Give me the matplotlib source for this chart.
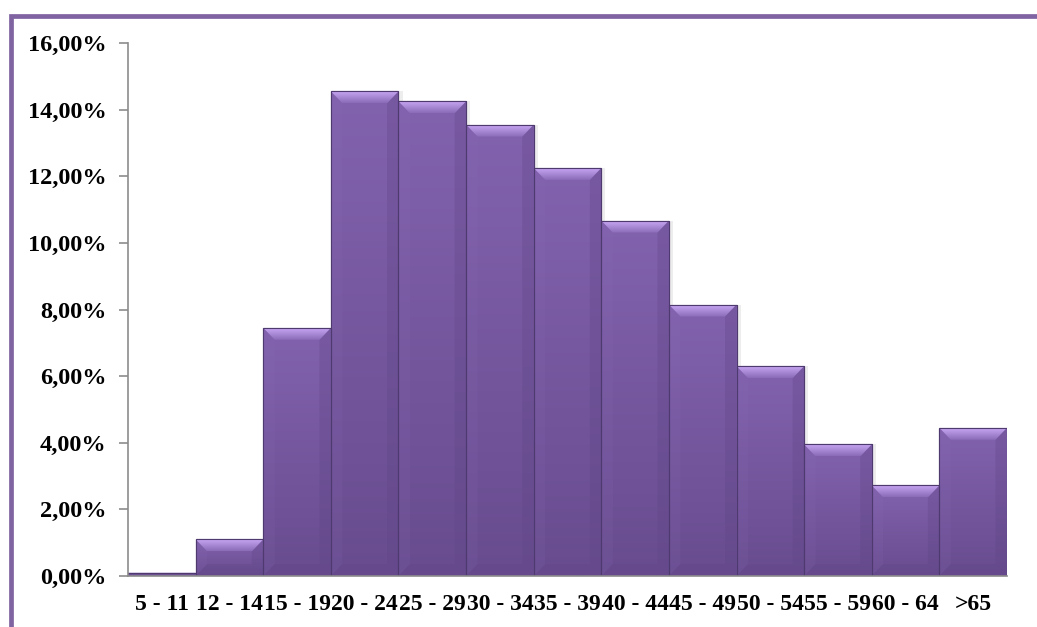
import numpy as np
import matplotlib
matplotlib.use("Agg")
import matplotlib.pyplot as plt
from matplotlib.patches import Polygon, Rectangle
from matplotlib.colors import LinearSegmentedColormap
from matplotlib.ticker import FuncFormatter, MultipleLocator

# share of each age group (%)
age_groups = ["5 - 11", "12 - 14", "15 - 19", "20 - 24", "25 - 29", "30 - 34",
              "35 - 39", "40 - 44", "45 - 49", "50 - 54", "55 - 59", "60 - 64", ">65"]
shares = [0.1, 1.1, 7.45, 14.55, 14.25, 13.55, 12.25, 10.67, 8.15, 6.3, 3.95, 2.72, 4.45]

face = "#7c5ca6"
edge = "#4f3a70"
dark = "#5f4586"

plt.rcParams["font.family"] = "Liberation Serif"
plt.rcParams["font.weight"] = "bold"

fig = plt.figure(figsize=(10.37, 6.27), dpi=100)
ax = fig.add_axes([0.1235, 0.0813, 0.8475, 0.8501])

x = np.arange(len(shares))

# soft shadow behind the bars
ax.bar(x + 0.06, shares, width=1.0, color="#000000", alpha=0.07, linewidth=0, zorder=1)
bars = ax.bar(x, shares, width=1.0, color=face, edgecolor=edge, linewidth=0.8, zorder=2)

grad = np.linspace(0, 1, 256).reshape(-1, 1)
body_cmap = LinearSegmentedColormap.from_list("body", ["#684c8f", "#8262ae"])
bevel_cmap = LinearSegmentedColormap.from_list("bevel", ["#8a6bb8", "#c7a6f2"])
px_per_unit = 33.33  # pixels per percent on this axis
for b in bars:
    x0, w, h = b.get_x(), b.get_width(), b.get_height()
    x1 = x0 + w
    im = ax.imshow(grad, cmap=body_cmap, aspect="auto", origin="lower",
                   extent=(x0, x1, 0, h), zorder=2.1)
    im.set_clip_path(b)

    # bevel facets
    dy = min(12 / px_per_unit, h / 2)
    dx = min(0.17, dy * px_per_unit / 67.6)
    top = Polygon([(x0, h), (x1, h), (x1 - dx, h - dy), (x0 + dx, h - dy)],
                  closed=True, facecolor="none", edgecolor="none", zorder=2.3)
    ax.add_patch(top)
    tim = ax.imshow(grad, cmap=bevel_cmap, aspect="auto", origin="lower",
                    extent=(x0, x1, h - dy, h), zorder=2.3)
    tim.set_clip_path(top)
    bottom = Polygon([(x0, 0), (x1, 0), (x1 - dx, dy), (x0 + dx, dy)],
                     closed=True, facecolor=dark, alpha=0.3, edgecolor="none", zorder=2.3)
    left = Polygon([(x0, 0), (x0, h), (x0 + dx, h - dy), (x0 + dx, dy)],
                   closed=True, facecolor="#8e70ba", alpha=0.12, edgecolor="none", zorder=2.2)
    right = Polygon([(x1, 0), (x1, h), (x1 - dx, h - dy), (x1 - dx, dy)],
                    closed=True, facecolor=dark, alpha=0.3, edgecolor="none", zorder=2.2)
    for p in (left, right, bottom):
        ax.add_patch(p)
    ax.add_patch(Rectangle((x0, 0), w, h, fill=False, edgecolor=edge, linewidth=0.8, zorder=2.4))

ax.set_xlim(-0.5, len(shares) - 0.5)
ax.set_ylim(0, 16)
ax.yaxis.set_major_locator(MultipleLocator(2))
ax.yaxis.set_major_formatter(FuncFormatter(lambda v, p: f"{v:.2f}%".replace(".", ",")))
ax.set_xticks(x)
ax.set_xticklabels(age_groups)

for s in ("top", "right"):
    ax.spines[s].set_visible(False)
for s in ("left", "bottom"):
    ax.spines[s].set_color("#8c8c8c")
    ax.spines[s].set_linewidth(1.2)
ax.spines["left"].set_zorder(3)

ax.tick_params(axis="y", length=6.5, width=1.2, color="#8c8c8c", pad=9,
               labelsize=17.5, labelcolor="black")
ax.tick_params(axis="x", length=0, pad=13, labelsize=17, labelcolor="black")

# chart frame
fig.patches.append(Rectangle((11 / 1037, -0.1), 1.2, 1.1 - 16 / 627,
                             transform=fig.transFigure, fill=False,
                             edgecolor="#8064a2", linewidth=3.4, clip_on=False))

fig.savefig("out.png", dpi=100)
